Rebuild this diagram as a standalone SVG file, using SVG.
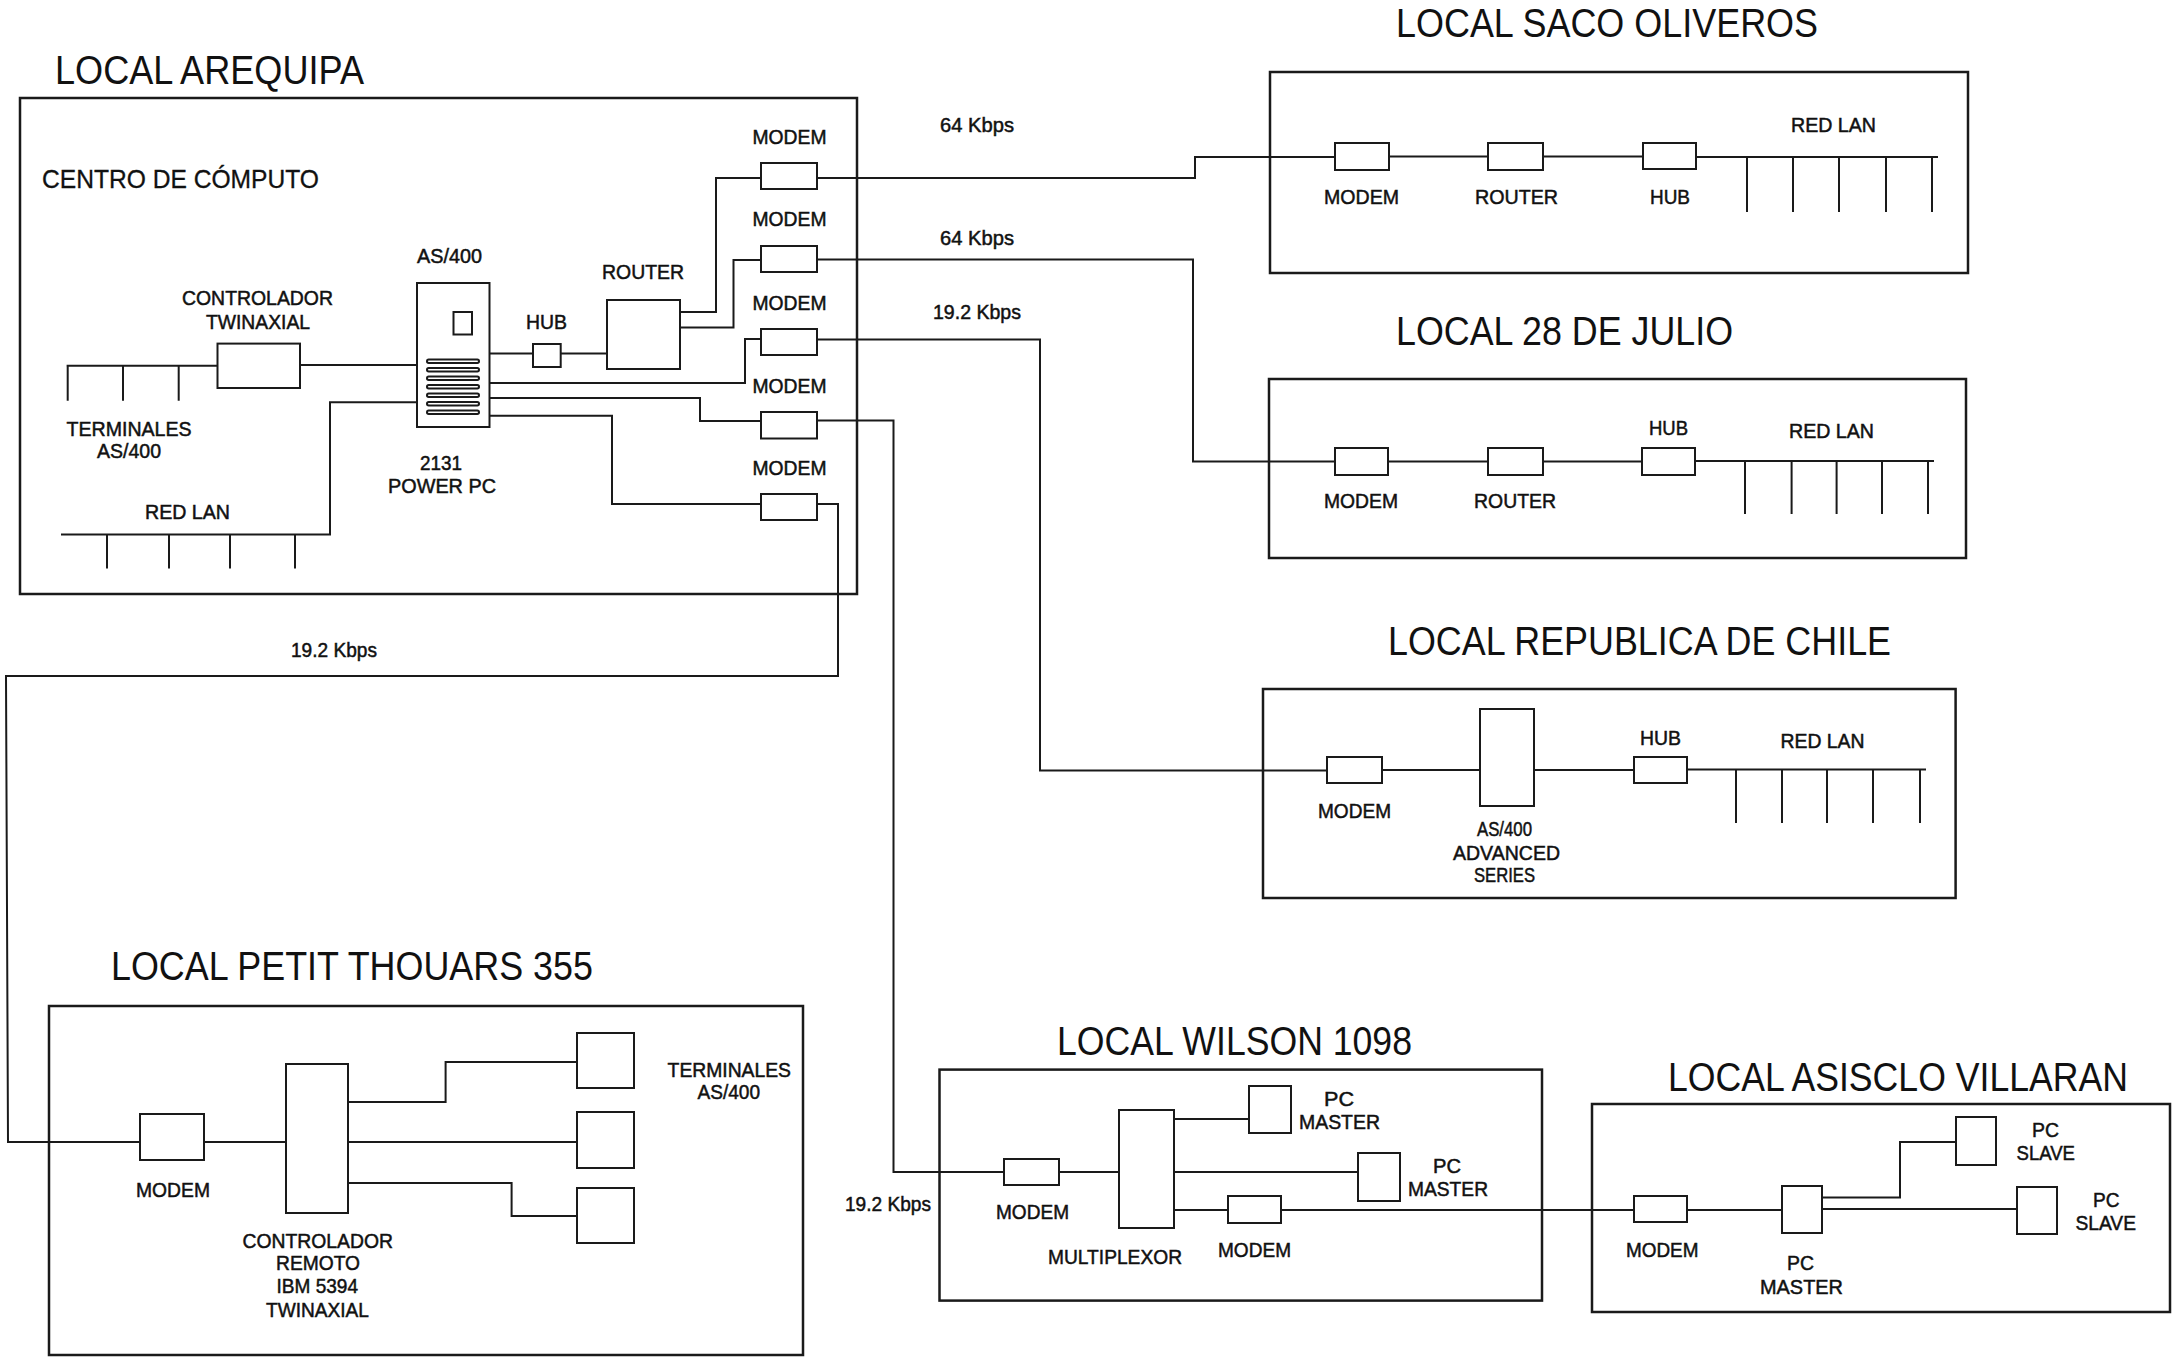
<svg xmlns="http://www.w3.org/2000/svg" width="2172" height="1357" viewBox="0 0 2172 1357">
<style>
.bg{fill:#fff}
.site{fill:none;stroke:#1a1a1a;stroke-width:2.5}
.dev{fill:#fff;stroke:#1a1a1a;stroke-width:2}
.ln{fill:none;stroke:#1a1a1a;stroke-width:2}
.t{font-family:"Liberation Sans",Arial,sans-serif;font-size:21px;fill:#111;stroke:#111;stroke-width:0.5}
.h{font-family:"Liberation Sans",Arial,sans-serif;font-size:40px;fill:#111}
.c{font-family:"Liberation Sans",Arial,sans-serif;font-size:25px;fill:#111;stroke:#111;stroke-width:0.3}
</style>
<rect class="bg" x="0" y="0" width="2172" height="1357"/>

<g id="connectors">
  <path class="ln" d="M66.6,365.7 H217.5 M67.7,365.7 V400.7 M123,365.7 V400.7 M178.7,365.7 V400.7"/>
  <path class="ln" d="M300,365 H417"/>
  <path class="ln" d="M61,534.6 H330 V402.3 H417 M107,534.6 V568.6 M169,534.6 V568.6 M230,534.6 V568.6 M295,534.6 V568.6"/>
  <path class="ln" d="M489.5,353.5 H533 M560.7,353.5 H607"/>
  <path class="ln" d="M680,312 H716 V178 H761"/>
  <path class="ln" d="M680,327.5 H733.5 V260 H761"/>
  <path class="ln" d="M489.5,383 H745 V339 H761"/>
  <path class="ln" d="M489.5,398 H700 V421 H761"/>
  <path class="ln" d="M489.5,415.7 H612 V504 H761"/>
  <path class="ln" d="M817,178 H1195 V157 H1335"/>
  <path class="ln" d="M817,259.5 H1193 V461.5 H1335"/>
  <path class="ln" d="M817,339.5 H1040 V770.5 H1327"/>
  <path class="ln" d="M817,420.5 H893.5 V1172 H1004"/>
  <path class="ln" d="M817,504 H838 V676 H6 L8,1142 H140"/>
  <path class="ln" d="M1281,1210 H1634"/>
  <path class="ln" d="M1389,156.5 H1488 M1543,156.5 H1643 M1696,157 H1938 M1747,157 V212 M1793,157 V212 M1839,157 V212 M1886,157 V212 M1932,157 V212"/>
  <path class="ln" d="M1388,461.5 H1488 M1543,461.5 H1642 M1695,461 H1934 M1745,461 V514 M1791.6,461 V514 M1836.6,461 V514 M1882,461 V514 M1928,461 V514"/>
  <path class="ln" d="M1382,770 H1480 M1534,770 H1634 M1687,769.5 H1926 M1736,769.5 V823 M1782,769.5 V823 M1827,769.5 V823 M1873,769.5 V823 M1920,769.5 V823"/>
  <path class="ln" d="M204,1142 H286 M348,1102 H445.6 V1062 H577 M348,1142 H577 M348,1183 H511.6 V1216 H577"/>
  <path class="ln" d="M1059,1172 H1119 M1174,1119 H1249 M1174,1172 H1358 M1174,1210 H1228"/>
  <path class="ln" d="M1687,1210 H1782 M1822,1197.6 H1900 V1142 H1956 M1822,1209 H2017"/>
</g>

<g id="rate-labels">
  <text class="t" x="940" y="132" textLength="74" lengthAdjust="spacingAndGlyphs">64 Kbps</text>
  <text class="t" x="940" y="245" textLength="74" lengthAdjust="spacingAndGlyphs">64 Kbps</text>
  <text class="t" x="933" y="319" textLength="88" lengthAdjust="spacingAndGlyphs">19.2 Kbps</text>
  <text class="t" x="291" y="657" textLength="86" lengthAdjust="spacingAndGlyphs">19.2 Kbps</text>
  <text class="t" x="845" y="1211" textLength="86" lengthAdjust="spacingAndGlyphs">19.2 Kbps</text>
</g>

<g id="local-arequipa">
  <text class="h" x="55" y="84" textLength="309" lengthAdjust="spacingAndGlyphs">LOCAL AREQUIPA</text>
  <rect class="site" x="20" y="98" width="837" height="496"/>
  <text class="c" x="42" y="188" textLength="277" lengthAdjust="spacingAndGlyphs">CENTRO DE CÓMPUTO</text>
</g>
<g id="arequipa-terminales">
  <text class="t" x="66.6" y="436" textLength="125" lengthAdjust="spacingAndGlyphs">TERMINALES</text>
  <text class="t" x="97" y="458" textLength="64" lengthAdjust="spacingAndGlyphs">AS/400</text>
</g>
<g id="arequipa-red-lan">
  <text class="t" x="145" y="518.6" textLength="85" lengthAdjust="spacingAndGlyphs">RED LAN</text>
</g>
<g id="arequipa-controlador">
  <rect class="dev" x="217.5" y="343.6" width="82.5" height="44.4"/>
  <text class="t" x="182" y="305" textLength="151" lengthAdjust="spacingAndGlyphs">CONTROLADOR</text>
  <text class="t" x="206" y="328.6" textLength="104" lengthAdjust="spacingAndGlyphs">TWINAXIAL</text>
</g>
<g id="arequipa-as400">
  <rect class="dev" x="417" y="283" width="72.5" height="144"/>
  <rect class="dev" x="453.5" y="312" width="18.5" height="22.5"/>
  <rect class="dev" x="427" y="359.5" width="52" height="3.5" rx="1.7"/>
  <rect class="dev" x="427" y="368" width="52" height="3.5" rx="1.7"/>
  <rect class="dev" x="427" y="376.5" width="52" height="3.5" rx="1.7"/>
  <rect class="dev" x="427" y="385" width="52" height="3.5" rx="1.7"/>
  <rect class="dev" x="427" y="393.5" width="52" height="3.5" rx="1.7"/>
  <rect class="dev" x="427" y="402" width="52" height="3.5" rx="1.7"/>
  <rect class="dev" x="427" y="410.5" width="52" height="3.5" rx="1.7"/>
  <text class="t" x="417" y="263" textLength="65" lengthAdjust="spacingAndGlyphs">AS/400</text>
  <text class="t" x="420" y="470" textLength="42" lengthAdjust="spacingAndGlyphs">2131</text>
  <text class="t" x="388" y="493" textLength="108" lengthAdjust="spacingAndGlyphs">POWER PC</text>
</g>
<g id="arequipa-hub">
  <rect class="dev" x="533" y="344" width="27.7" height="23"/>
  <text class="t" x="526" y="329" textLength="41" lengthAdjust="spacingAndGlyphs">HUB</text>
</g>
<g id="arequipa-router">
  <rect class="dev" x="607" y="300" width="73" height="69"/>
  <text class="t" x="602" y="278.6" textLength="82" lengthAdjust="spacingAndGlyphs">ROUTER</text>
</g>
<g id="arequipa-modem-1">
  <rect class="dev" x="761" y="163" width="56" height="26"/>
  <text class="t" x="752.5" y="143.6" textLength="74" lengthAdjust="spacingAndGlyphs">MODEM</text>
</g>
<g id="arequipa-modem-2">
  <rect class="dev" x="761" y="246" width="56" height="26"/>
  <text class="t" x="752.5" y="226" textLength="74" lengthAdjust="spacingAndGlyphs">MODEM</text>
</g>
<g id="arequipa-modem-3">
  <rect class="dev" x="761" y="329" width="56" height="26"/>
  <text class="t" x="752.5" y="309.5" textLength="74" lengthAdjust="spacingAndGlyphs">MODEM</text>
</g>
<g id="arequipa-modem-4">
  <rect class="dev" x="761" y="412" width="56" height="26.5"/>
  <text class="t" x="752.5" y="392.7" textLength="74" lengthAdjust="spacingAndGlyphs">MODEM</text>
</g>
<g id="arequipa-modem-5">
  <rect class="dev" x="761" y="494" width="56" height="26"/>
  <text class="t" x="752.5" y="475" textLength="74" lengthAdjust="spacingAndGlyphs">MODEM</text>
</g>

<g id="local-saco-oliveros">
  <text class="h" x="1396" y="37" textLength="422" lengthAdjust="spacingAndGlyphs">LOCAL SACO OLIVEROS</text>
  <rect class="site" x="1270" y="72" width="698" height="201"/>
  <rect class="dev" x="1335" y="143" width="54" height="27"/>
  <text class="t" x="1324" y="204" textLength="75" lengthAdjust="spacingAndGlyphs">MODEM</text>
  <rect class="dev" x="1488" y="143" width="55" height="27"/>
  <text class="t" x="1475" y="204" textLength="83" lengthAdjust="spacingAndGlyphs">ROUTER</text>
  <rect class="dev" x="1643" y="143" width="53" height="26"/>
  <text class="t" x="1650" y="204" textLength="40" lengthAdjust="spacingAndGlyphs">HUB</text>
  <text class="t" x="1791" y="132" textLength="85" lengthAdjust="spacingAndGlyphs">RED LAN</text>
</g>

<g id="local-28-de-julio">
  <text class="h" x="1396" y="345" textLength="337" lengthAdjust="spacingAndGlyphs">LOCAL 28 DE JULIO</text>
  <rect class="site" x="1269" y="379" width="697" height="179"/>
  <rect class="dev" x="1335" y="448" width="53" height="27"/>
  <text class="t" x="1324" y="507.6" textLength="74" lengthAdjust="spacingAndGlyphs">MODEM</text>
  <rect class="dev" x="1488" y="448" width="55" height="27"/>
  <text class="t" x="1474" y="507.6" textLength="82" lengthAdjust="spacingAndGlyphs">ROUTER</text>
  <rect class="dev" x="1642" y="448" width="53" height="27"/>
  <text class="t" x="1649" y="434.7" textLength="39" lengthAdjust="spacingAndGlyphs">HUB</text>
  <text class="t" x="1789" y="438" textLength="85" lengthAdjust="spacingAndGlyphs">RED LAN</text>
</g>

<g id="local-republica-de-chile">
  <text class="h" x="1388" y="655" textLength="503" lengthAdjust="spacingAndGlyphs">LOCAL REPUBLICA DE CHILE</text>
  <rect class="site" x="1263" y="689" width="692.6" height="209"/>
  <rect class="dev" x="1327" y="757" width="55" height="26"/>
  <text class="t" x="1318" y="818" textLength="73" lengthAdjust="spacingAndGlyphs">MODEM</text>
  <rect class="dev" x="1480" y="709" width="54" height="97"/>
  <text class="t" x="1477" y="836" textLength="55" lengthAdjust="spacingAndGlyphs">AS/400</text>
  <text class="t" x="1453" y="860" textLength="107" lengthAdjust="spacingAndGlyphs">ADVANCED</text>
  <text class="t" x="1474" y="881.7" textLength="61" lengthAdjust="spacingAndGlyphs">SERIES</text>
  <rect class="dev" x="1634" y="757" width="53" height="26"/>
  <text class="t" x="1640" y="745" textLength="41" lengthAdjust="spacingAndGlyphs">HUB</text>
  <text class="t" x="1780.5" y="748" textLength="84" lengthAdjust="spacingAndGlyphs">RED LAN</text>
</g>

<g id="local-petit-thouars-355">
  <text class="h" x="111" y="980" textLength="482" lengthAdjust="spacingAndGlyphs">LOCAL PETIT THOUARS 355</text>
  <rect class="site" x="49" y="1006" width="754" height="349"/>
  <rect class="dev" x="140" y="1114" width="64" height="46"/>
  <text class="t" x="136" y="1197" textLength="74" lengthAdjust="spacingAndGlyphs">MODEM</text>
  <rect class="dev" x="286" y="1064" width="62" height="149"/>
  <text class="t" x="242.5" y="1248" textLength="150.5" lengthAdjust="spacingAndGlyphs">CONTROLADOR</text>
  <text class="t" x="276" y="1270" textLength="84" lengthAdjust="spacingAndGlyphs">REMOTO</text>
  <text class="t" x="276.5" y="1293" textLength="81.5" lengthAdjust="spacingAndGlyphs">IBM 5394</text>
  <text class="t" x="266" y="1317" textLength="103" lengthAdjust="spacingAndGlyphs">TWINAXIAL</text>
  <rect class="dev" x="577" y="1033" width="57" height="55"/>
  <rect class="dev" x="577" y="1112" width="57" height="56"/>
  <rect class="dev" x="577" y="1188" width="57" height="55"/>
  <text class="t" x="667.6" y="1077" textLength="123.4" lengthAdjust="spacingAndGlyphs">TERMINALES</text>
  <text class="t" x="697.5" y="1099" textLength="62.5" lengthAdjust="spacingAndGlyphs">AS/400</text>
</g>

<g id="local-wilson-1098">
  <text class="h" x="1057" y="1055" textLength="355" lengthAdjust="spacingAndGlyphs">LOCAL WILSON 1098</text>
  <rect class="site" x="939.5" y="1069.6" width="602.5" height="231"/>
  <rect class="dev" x="1004" y="1159" width="55" height="26"/>
  <text class="t" x="996" y="1219" textLength="73" lengthAdjust="spacingAndGlyphs">MODEM</text>
  <rect class="dev" x="1119" y="1110" width="55" height="118"/>
  <text class="t" x="1048" y="1263.5" textLength="134" lengthAdjust="spacingAndGlyphs">MULTIPLEXOR</text>
  <rect class="dev" x="1249" y="1086" width="42" height="47"/>
  <text class="t" x="1324" y="1106" textLength="30" lengthAdjust="spacingAndGlyphs">PC</text>
  <text class="t" x="1299" y="1129" textLength="81" lengthAdjust="spacingAndGlyphs">MASTER</text>
  <rect class="dev" x="1358" y="1153" width="42" height="48"/>
  <text class="t" x="1433" y="1173" textLength="28" lengthAdjust="spacingAndGlyphs">PC</text>
  <text class="t" x="1408" y="1196" textLength="80" lengthAdjust="spacingAndGlyphs">MASTER</text>
  <rect class="dev" x="1228" y="1196" width="53" height="27"/>
  <text class="t" x="1218" y="1257" textLength="73" lengthAdjust="spacingAndGlyphs">MODEM</text>
</g>

<g id="local-asisclo-villaran">
  <text class="h" x="1668" y="1091" textLength="460" lengthAdjust="spacingAndGlyphs">LOCAL ASISCLO VILLARAN</text>
  <rect class="site" x="1592" y="1104" width="578" height="208"/>
  <rect class="dev" x="1634" y="1196" width="53" height="26"/>
  <text class="t" x="1626" y="1257" textLength="72.5" lengthAdjust="spacingAndGlyphs">MODEM</text>
  <rect class="dev" x="1782" y="1186" width="40" height="47"/>
  <text class="t" x="1787" y="1270" textLength="27" lengthAdjust="spacingAndGlyphs">PC</text>
  <text class="t" x="1760" y="1294" textLength="83" lengthAdjust="spacingAndGlyphs">MASTER</text>
  <rect class="dev" x="1956" y="1117" width="40" height="48"/>
  <text class="t" x="2032" y="1137" textLength="27" lengthAdjust="spacingAndGlyphs">PC</text>
  <text class="t" x="2016.5" y="1160" textLength="58.5" lengthAdjust="spacingAndGlyphs">SLAVE</text>
  <rect class="dev" x="2017" y="1187" width="40" height="47"/>
  <text class="t" x="2093" y="1206.5" textLength="26.5" lengthAdjust="spacingAndGlyphs">PC</text>
  <text class="t" x="2075.5" y="1230" textLength="60.5" lengthAdjust="spacingAndGlyphs">SLAVE</text>
</g>
</svg>
